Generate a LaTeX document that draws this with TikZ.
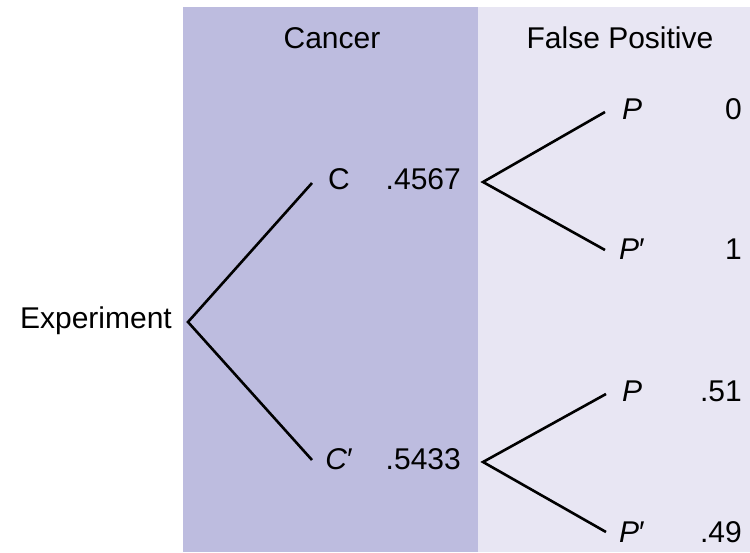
\documentclass[tikz,border=0pt]{standalone}
\usepackage{fontspec}
\setmainfont{Liberation Sans}
\usepackage{tikz}
\usetikzlibrary{positioning}
\definecolor{cancerband}{RGB}{189,188,223}
\definecolor{fpband}{RGB}{232,230,243}

\begin{document}
\begin{tikzpicture}[
    x=1pt, y=1pt,
    lbl/.style={anchor=base, inner sep=0pt, font=\fontsize{30}{34}\selectfont},
    num/.style={lbl, anchor=base east},
    branch/.style={line width=2.6pt, black, line join=miter},
]
\useasboundingbox (0,0) rectangle (750,552);

% ── Background bands ──────
\fill[cancerband] (183,0) rectangle (478,545);
\fill[fpband] (478,0) rectangle (750,545);

% ── Headers ──────
\node[lbl] (cancer) at (332,503) {Cancer};
\node[lbl] (falsepos) at (620,503) {False Positive};

% ── Labels ──────
\node[lbl, anchor=base east] (exp) at (172,223) {Experiment};
\node[lbl] (C) at (339,362) {C};
\node[lbl] (Cn) at (339,82) {\textit{C}′};
\node[num] (pC) at (461,362) {.4567};
\node[num] (pCn) at (461,82) {.5433};
\node[lbl] (P1) at (632,432) {\textit{P}};
\node[lbl] (Pn1) at (632,292) {\textit{P}′};
\node[lbl] (P2) at (632,150) {\textit{P}};
\node[lbl] (Pn2) at (632,10) {\textit{P}′};
\node[num] (v1) at (742,432) {0};
\node[num] (v2) at (742,292) {1};
\node[num] (v3) at (742,150) {.51};
\node[num] (v4) at (742,10) {.49};

% ── Branch points ──────
\coordinate (root) at (188,230);
\coordinate (cEnd) at (312,369);
\coordinate (cnEnd) at (312,92);
\coordinate (cRoot) at (483,370);
\coordinate (cnRoot) at (483,90);
\coordinate (p1End) at (605,440);
\coordinate (pn1End) at (605,302);
\coordinate (p2End) at (606,158);
\coordinate (pn2End) at (606,20);

% ── Tree ──────
\draw[branch] (cEnd) -- (root) -- (cnEnd);
\draw[branch] (p1End) -- (cRoot) -- (pn1End);
\draw[branch] (p2End) -- (cnRoot) -- (pn2End);

\end{tikzpicture}
\end{document}
